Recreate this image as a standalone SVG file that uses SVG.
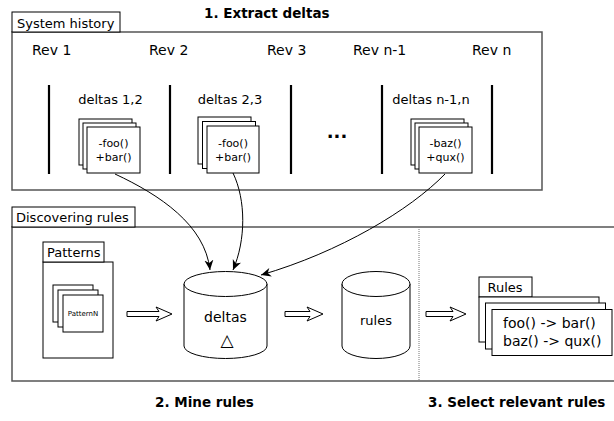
<svg xmlns="http://www.w3.org/2000/svg" width="614" height="421" viewBox="0 0 614 421">
<style>
text{font-family:"DejaVu Sans","Liberation Sans",sans-serif;fill:#000}
.frame{fill:none;stroke:#555;stroke-width:1.5}
.lbl{fill:#fff;stroke:#000;stroke-width:1}
.doc{fill:#fff;stroke:#000;stroke-width:1}
.bar{stroke:#000;stroke-width:2.2}
.title{font-weight:bold;font-size:13.5px}
.t13{font-size:13px}
.t14{font-size:14px}
.t11{font-size:11px}
.conn{fill:none;stroke:#000;stroke-width:1}
.hollow{fill:#fff;stroke:#000;stroke-width:1}
.cyl{fill:#fff;stroke:#000;stroke-width:1}
</style>
<defs>
<marker id="ah" markerWidth="12" markerHeight="10" refX="10" refY="5" orient="auto" markerUnits="userSpaceOnUse">
<path d="M0,0.5 L10,5 L0,9.5 L3,5 Z" fill="#000"/>
</marker>
</defs>
<rect width="614" height="421" fill="#fff"/>

<g id="system-history">
<rect class="frame" x="12" y="32" width="530" height="158"/>
<rect class="lbl" x="12" y="12" width="108" height="20"/>
<text class="t13" x="17" y="28">System history</text>
<text class="title" x="204" y="18">1. Extract deltas</text>
<text class="t14" x="32" y="55">Rev 1</text>
<text class="t14" x="149" y="55">Rev 2</text>
<text class="t14" x="267" y="55">Rev 3</text>
<text class="t14" x="353" y="55">Rev n-1</text>
<text class="t14" x="472" y="55">Rev n</text>
<line class="bar" x1="49" y1="85" x2="49" y2="174"/>
<line class="bar" x1="170" y1="85" x2="170" y2="174"/>
<line class="bar" x1="291" y1="85" x2="291" y2="174"/>
<line class="bar" x1="382" y1="85" x2="382" y2="174"/>
<line class="bar" x1="492" y1="85" x2="492" y2="174"/>
<text x="337" y="138" text-anchor="middle" style="font-weight:bold;font-size:18px">...</text>
</g>

<g id="deltas-1-2">
<text class="t13" x="110.5" y="104" text-anchor="middle">deltas 1,2</text>
<rect class="doc" x="79" y="119" width="53" height="46"/>
<rect class="doc" x="83" y="123" width="53" height="46"/>
<rect class="doc" x="87" y="127" width="53" height="46"/>
<text class="t11" x="113.5" y="147" text-anchor="middle">-foo()</text>
<text class="t11" x="113.5" y="160.5" text-anchor="middle">+bar()</text>
</g>

<g id="deltas-2-3">
<text class="t13" x="230" y="104" text-anchor="middle">deltas 2,3</text>
<rect class="doc" x="198" y="117" width="53" height="47"/>
<rect class="doc" x="202.5" y="121.5" width="53" height="47"/>
<rect class="doc" x="207" y="126" width="52" height="47"/>
<text class="t11" x="233" y="147" text-anchor="middle">-foo()</text>
<text class="t11" x="233" y="160.5" text-anchor="middle">+bar()</text>
</g>

<g id="deltas-n1-n">
<text class="t13" x="431" y="104" text-anchor="middle">deltas n-1,n</text>
<rect class="doc" x="411" y="119" width="53" height="46"/>
<rect class="doc" x="415" y="123" width="53" height="46"/>
<rect class="doc" x="419" y="127" width="53" height="46"/>
<text class="t11" x="445.5" y="147" text-anchor="middle">-baz()</text>
<text class="t11" x="445.5" y="160.5" text-anchor="middle">+qux()</text>
</g>

<g id="discovering-rules">
<rect class="frame" x="12" y="227" width="620" height="154"/>
<rect class="lbl" x="12" y="207" width="123" height="20"/>
<text class="t13" x="16" y="222">Discovering rules</text>
<line x1="419" y1="227" x2="419" y2="381" stroke="#777" stroke-width="1" stroke-dasharray="1,1"/>
<text class="title" x="155" y="407">2. Mine rules</text>
<text class="title" x="428" y="407">3. Select relevant rules</text>
</g>

<g id="patterns">
<rect class="doc" x="43" y="262" width="70" height="96"/>
<rect class="lbl" x="43" y="242" width="61" height="20"/>
<text class="t13" x="47" y="257">Patterns</text>
<rect class="doc" x="53" y="285" width="40" height="37"/>
<rect class="doc" x="58" y="290" width="40" height="37"/>
<rect class="doc" x="63" y="295" width="40" height="37"/>
<text x="83" y="316" text-anchor="middle" style="font-size:7px">PatternN</text>
</g>

<g id="deltas-db">
<path class="cyl" d="M184,284 A41.5,12.5 0 0 1 267,284 V346 A41.5,12.5 0 0 1 184,346 Z"/>
<path class="cyl" d="M184,284 A41.5,12.5 0 0 0 267,284"/>
<text class="t14" x="225.5" y="322" text-anchor="middle">deltas</text>
<text x="227" y="346" text-anchor="middle" style="font-size:17px">△</text>
</g>

<g id="rules-db">
<path class="cyl" d="M342,284 A34,12.5 0 0 1 410,284 V346 A34,12.5 0 0 1 342,346 Z"/>
<path class="cyl" d="M342,284 A34,12.5 0 0 0 410,284"/>
<text class="t13" x="376" y="325" text-anchor="middle">rules</text>
</g>

<g id="rules-doc">
<rect class="lbl" x="479" y="277" width="53" height="20"/>
<text class="t13" x="487.5" y="292">Rules</text>
<rect class="doc" x="479" y="297" width="120" height="45"/>
<rect class="doc" x="485.5" y="303" width="120" height="46"/>
<rect class="doc" x="492" y="309.5" width="120" height="46"/>
<text class="t14" x="503" y="328">foo() -&gt; bar()</text>
<text class="t14" x="503" y="346">baz() -&gt; qux()</text>
</g>

<g id="connectors">
<path class="conn" d="M115,174 C160,195 205,225 210,270" marker-end="url(#ah)"/>
<path class="conn" d="M233,173 C246,200 246,240 233,270" marker-end="url(#ah)"/>
<path class="conn" d="M445,174 C410,210 340,252 261,275" marker-end="url(#ah)"/>
<path class="hollow" d="M127,311.5 H159 L156,307 L172,314 L156,321 L159,316.5 H127 Z"/>
<path class="hollow" d="M285,311.5 H310 L307,307 L323,314 L307,321 L310,316.5 H285 Z"/>
<path class="hollow" d="M426,311.5 H453 L450,307 L466,314 L450,321 L453,316.5 H426 Z"/>
</g>
</svg>
